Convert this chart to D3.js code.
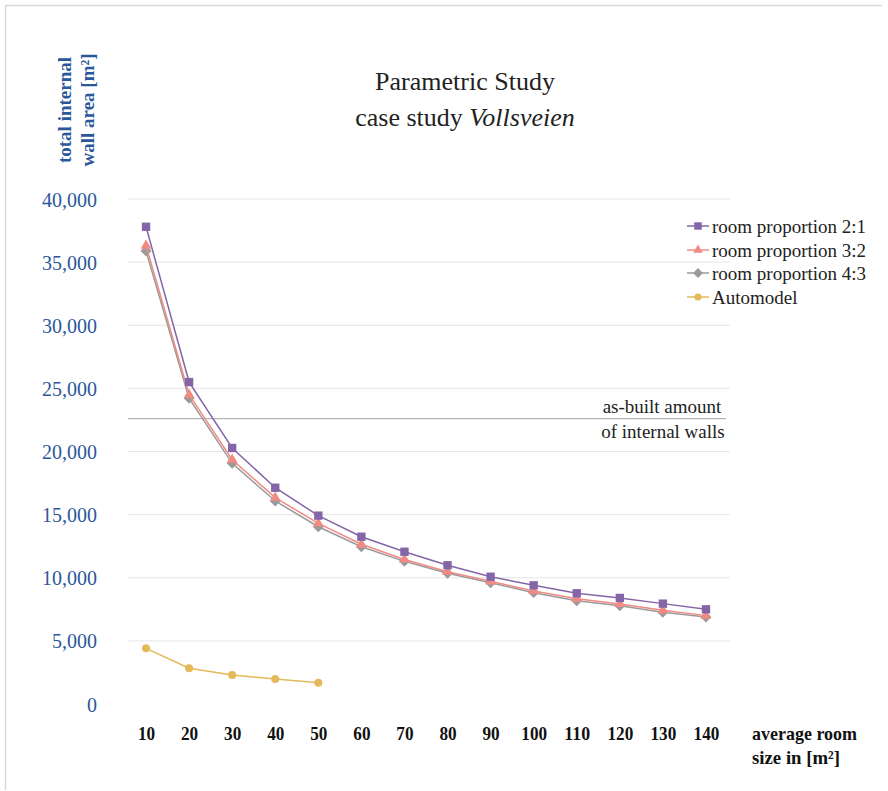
<!DOCTYPE html>
<html>
<head>
<meta charset="utf-8">
<script src="https://cdn.jsdelivr.net/npm/d3@7"></script>
<style>
  html, body { margin: 0; padding: 0; background: #fff; }
  svg { display: block; }
  svg text { font-family: "Liberation Serif", "DejaVu Serif", serif !important; }
</style>
</head>
<body>
<script>
const categories = [10, 20, 30, 40, 50, 60, 70, 80, 90, 100, 110, 120, 130, 140];
const prop21 = [37800, 25500, 20280, 17130, 14920, 13250, 12060, 10990, 10080, 9400, 8770, 8400, 7950, 7500];
const prop32 = [36300, 24500, 19350, 16350, 14300, 12650, 11450, 10480, 9720, 8950, 8330, 7920, 7420, 7000];
const prop43 = [35880, 24210, 19060, 16080, 14040, 12460, 11300, 10350, 9610, 8820, 8180, 7790, 7260, 6890];
const automodel = [4410, 2830, 2300, 1980, 1690];
const yTicks = [0, 5000, 10000, 15000, 20000, 25000, 30000, 35000, 40000];
const asBuilt = 22600;

const seriesNames = ["room proportion 2:1", "room proportion 3:2", "room proportion 4:3", "Automodel"];
const seriesColors = ["#8466a8", "#f28a84", "#9a9a9a", "#e4b95a"];
const seriesShapes = [d3.symbolSquare, d3.symbolTriangle, d3.symbolSquare, d3.symbolCircle];
const seriesRot = [0, 0, 45, 0];
const seriesSizes = [70, 50, 60, 50];

const W = 888, H = 791;
const svg = d3.select("body").append("svg").attr("width", W).attr("height", H)
  .attr("font-family", "Liberation Serif");

// outer border
svg.append("path").attr("d", "M5.5,790 L5.5,5.5 L882,5.5").attr("fill", "none").attr("stroke", "#d9d9d9").attr("stroke-width", 1.5);

const x = d3.scalePoint().domain(categories).range([124.5, 727.5]).padding(0.5);
const y = d3.scaleLinear().domain([0, 40000]).range([704, 199]);

// gridlines
svg.append("g").selectAll("line").data(yTicks.filter(d => d > 0)).join("line")
  .attr("x1", 128).attr("x2", 730)
  .attr("y1", d => y(d)).attr("y2", d => y(d))
  .attr("stroke", "#e6e6e6").attr("stroke-width", 1);

// y axis
const yAxis = d3.axisLeft(y).tickValues(yTicks).tickSize(0).tickPadding(0)
  .tickFormat(d3.format(","));
const gy = svg.append("g").attr("transform", "translate(97,0)").call(yAxis)
  .attr("font-family", "Liberation Serif");
gy.select(".domain").remove();
gy.selectAll("text").attr("fill", "#2b579a").attr("font-size", 20)
  .attr("dy", "0.35em");

// x axis
const xAxis = d3.axisBottom(x).tickSize(0).tickPadding(0);
const gx = svg.append("g").attr("transform", "translate(0,733)").call(xAxis)
  .attr("font-family", "Liberation Serif");
gx.select(".domain").remove();
gx.selectAll("text").attr("fill", "#111").attr("font-size", 19).attr("font-weight", "bold")
  .attr("dy", "0.35em").attr("textLength", d => String(d).length * 8.6).attr("lengthAdjust", "spacingAndGlyphs");

// as-built line
svg.append("line").attr("x1", 128).attr("x2", 726)
  .attr("y1", y(asBuilt)).attr("y2", y(asBuilt))
  .attr("stroke", "#b5b5b5").attr("stroke-width", 1.2);
svg.append("text").attr("x", 662).attr("y", y(asBuilt) - 6).attr("text-anchor", "middle")
  .attr("font-size", 19).attr("fill", "#222").text("as-built amount");
svg.append("text").attr("x", 663).attr("y", y(asBuilt) + 19).attr("text-anchor", "middle")
  .attr("font-size", 19).attr("fill", "#222").text("of internal walls");

// series
const allSeries = [prop21, prop32, prop43, automodel];
const line = d3.line().x((d, i) => x(categories[i])).y(d => y(d));
[3, 2, 1, 0].forEach(si => {
  const data = allSeries[si];
  const g = svg.append("g");
  g.append("path").datum(data).attr("d", line).attr("fill", "none")
    .attr("stroke", seriesColors[si]).attr("stroke-width", 1.5);
  g.selectAll("path.m").data(data).join("path").attr("class", "m")
    .attr("transform", (d, i) => `translate(${x(categories[i])},${y(d)}) rotate(${seriesRot[si]})`)
    .attr("d", d3.symbol().type(seriesShapes[si]).size(seriesSizes[si]))
    .attr("fill", seriesColors[si]);
});

// legend
const legY = [226, 250, 273, 297];
seriesNames.forEach((name, i) => {
  const g = svg.append("g").attr("transform", `translate(0,${legY[i]})`);
  g.append("line").attr("x1", 687).attr("x2", 709).attr("y1", 0).attr("y2", 0)
    .attr("stroke", seriesColors[i]).attr("stroke-width", 1.5);
  g.append("path").attr("transform", `translate(698,0) rotate(${seriesRot[i]})`)
    .attr("d", d3.symbol().type(seriesShapes[i]).size(seriesSizes[i] * 0.8))
    .attr("fill", seriesColors[i]);
  g.append("text").attr("x", 712).attr("y", 0).attr("dy", "0.35em")
    .attr("font-size", 19).attr("fill", "#222").text(name);
});

// title
svg.append("text").attr("x", 465).attr("y", 90).attr("text-anchor", "middle")
  .attr("font-size", 26).attr("fill", "#222").text("Parametric Study");
const t2 = svg.append("text").attr("x", 465).attr("y", 126).attr("text-anchor", "middle")
  .attr("font-size", 26).attr("fill", "#222");
t2.append("tspan").text("case study ");
t2.append("tspan").attr("font-style", "italic").text("Vollsveien");

// y axis title
const yt = svg.append("text").attr("transform", "rotate(-90)")
  .attr("font-size", 19).attr("font-weight", "bold").attr("fill", "#2b579a").attr("text-anchor", "middle");
yt.append("tspan").attr("x", -110).attr("y", 71).text("total internal");
yt.append("tspan").attr("x", -110).attr("y", 94).text("wall area [m²]");

// x axis title
svg.append("text").attr("x", 752).attr("y", 740).attr("font-size", 19).attr("font-weight", "bold")
  .attr("fill", "#111").attr("textLength", 105).attr("lengthAdjust", "spacingAndGlyphs").text("average room");
svg.append("text").attr("x", 752).attr("y", 764).attr("font-size", 19).attr("font-weight", "bold")
  .attr("fill", "#111").attr("textLength", 88).attr("lengthAdjust", "spacingAndGlyphs").text("size in [m²]");
</script>
</body>
</html>
